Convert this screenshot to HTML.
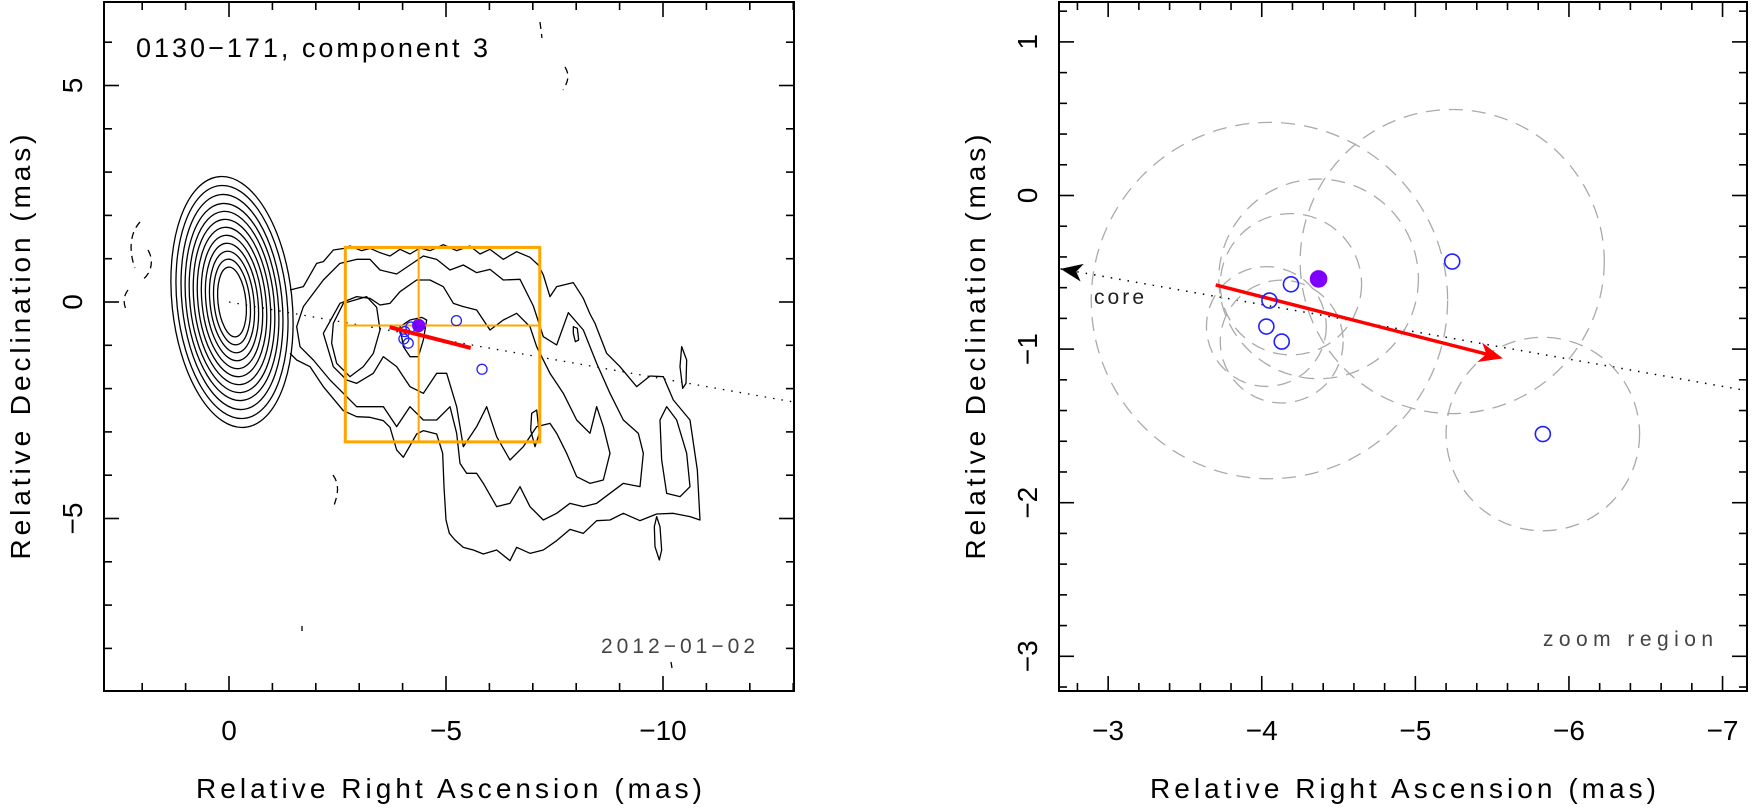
<!DOCTYPE html>
<html><head><meta charset="utf-8"><style>
html,body{margin:0;padding:0;background:#fff}
svg{display:block}
text{font-family:"Liberation Sans",sans-serif;fill:#000}
</style></head><body>
<svg id="fig" width="1753" height="811" viewBox="0 0 1753 811" xmlns="http://www.w3.org/2000/svg">
<defs>
<clipPath id="clipL"><rect x="104" y="2" width="690" height="689"/></clipPath>
<clipPath id="clipR"><rect x="1059" y="2" width="688" height="689"/></clipPath>
</defs>
<g id="left">
 <g clip-path="url(#clipL)" fill="none" stroke="#000" stroke-width="1.3">
  <g id="coreRings"></g>
  <g transform="translate(290,220) scale(0.33333)" stroke-width="3.9" stroke-linejoin="round">
   <path d="M0,210 L40,200 80,130 100,125 130,90 163,85 180,78 215,92 240,85 270,98 300,108 330,88 360,102 390,84 420,92 460,74 500,92 540,78 570,102 600,88 640,118 680,95 720,112 745,135 760,165 780,230 800,200 850,188 880,235 900,282 915,310 950,400 990,440 1040,500 1080,468 1120,470 1150,540 1200,600 1222,750 1230,900 1200,890 1150,880 1100,882 1050,902 1000,880 960,900 920,902 880,940 840,928 800,962 760,990 720,1000 680,982 660,1022 620,990 580,1002 550,990 520,982 495,960 478,940 468,900 462,800 458,700 440,642 400,632 380,642 340,712 320,690 300,622 280,602 240,592 200,590 160,572 100,500 60,440 20,420 0,400"/>
   <path d="M20,320 L40,260 100,180 150,130 200,118 240,118 270,150 320,162 360,135 400,108 440,118 480,150 520,135 560,158 600,148 640,180 690,178 730,258 760,350 800,375 835,278 880,330 920,430 960,520 1000,600 1045,640 1060,700 1050,800 1000,790 960,820 920,850 880,860 840,850 800,880 760,900 720,860 690,800 660,850 620,860 580,790 560,760 530,760 510,730 500,640 480,560 440,600 400,600 360,560 320,620 280,560 240,560 200,560 160,520 120,480 70,420 30,380 Z"/>
   <path d="M100,340 L150,250 200,230 240,235 270,255 300,250 330,215 380,180 420,180 460,200 490,250 520,260 560,270 600,330 640,300 680,280 720,320 740,380 780,460 820,520 860,600 900,640 920,560 940,620 960,700 940,780 900,790 860,770 830,700 800,640 780,610 740,620 700,680 660,720 620,650 590,560 560,620 520,680 500,560 470,460 440,460 400,520 360,500 320,440 280,410 250,460 200,490 170,480 130,440 Z"/>
   <path d="M130,310 L160,250 230,230 260,262 270,330 250,400 220,440 180,470 140,430 125,370 Z"/>
   <path d="M330,320 L360,300 395,292 410,300 400,360 385,410 360,410 340,380 Z"/>
   <path d="M1110,600 L1130,560 1160,600 1190,700 1200,800 1170,830 1130,820 1115,720 Z"/>
   <path d="M850,320 L862,325 866,360 856,365 850,340 Z"/>
   <path d="M1175,380 L1190,420 1188,490 1178,505 1170,440 Z"/>
   <path d="M1100,890 L1110,920 1115,990 1108,1020 1095,980 1093,920 Z"/>
   <path d="M725,580 L740,570 748,640 735,680 722,630 Z"/>
  </g>
  <g stroke-dasharray="7,5">
   <path d="M140,222 C128,235 130,255 135,268 M148,250 C155,262 150,275 142,280"/>
   <path d="M128,290 C122,298 124,305 127,312"/>
   <path d="M333,475 C340,485 338,495 333,508"/>
   <path d="M540,22 L542,38"/>
   <path d="M565,67 C570,75 568,82 563,90"/>
   <path d="M302,626 L302,631"/>
   <path d="M671,662 L672,668"/>
  </g>
  <g id="leftMarks"></g>
 </g>
 <g id="leftAxes"></g>
 <text x="136" y="57" font-size="27" textLength="352">0130−171, component 3</text>
 <text x="601" y="653" font-size="21" textLength="154" fill="#444" style="fill:#444">2012−01−02</text>
 <text x="449" y="798" font-size="28" text-anchor="middle" textLength="506">Relative Right Ascension (mas)</text>
 <text transform="translate(30,347) rotate(-90)" font-size="28" text-anchor="middle" textLength="425">Relative Declination (mas)</text>
</g>
<g id="right">
 <g clip-path="url(#clipR)" id="rightMarks"></g>
 <g id="rightAxes"></g>
 <text x="1543" y="646" font-size="21" textLength="170" fill="#444" style="fill:#444">zoom region</text>
 <text x="1094" y="304" font-size="21" textLength="50" fill="#222" style="fill:#222">core</text>
 <text x="1403" y="798" font-size="28" text-anchor="middle" textLength="506">Relative Right Ascension (mas)</text>
 <text transform="translate(985,347) rotate(-90)" font-size="28" text-anchor="middle" textLength="425">Relative Declination (mas)</text>
</g>
</svg>
<script>
// ---- data ----
const compRA  = [-4.37, -4.19, -4.05, -4.03, -4.13, -5.24, -5.83];
const compDec = [-0.543, -0.578, -0.684, -0.853, -0.951, -0.43, -1.553];
const compErr = [0.65, 0.46, 1.16, 0.39, 0.40, 0.99, 0.63];
const compFilled = [true, false, false, false, false, false, false];
const arrowStart = [-3.70, -0.582];
const arrowEnd = [-5.57, -1.06];
const jetSlope = [0.1775];
const coreRx = [60, 55, 50, 46, 42, 38, 34, 30, 26, 22, 18, 14];
const coreRy = [126, 117, 108, 99, 91, 83, 75, 67, 59, 51, 43, 35];
const leftXTicks = [0, -5, -10];
const leftYTicks = [5, 0, -5];
const rightXTicks = [-3, -4, -5, -6, -7];
const rightYTicks = [1, 0, -1, -2, -3];
const zoomBox = [-2.68, -7.16, 1.26, -3.23];

const NS = "http://www.w3.org/2000/svg";
function mk(tag, attrs, parent){const e=document.createElementNS(NS,tag);for(const k in attrs)e.setAttribute(k,attrs[k]);parent.appendChild(e);return e;}
const LF={x0:104,x1:794,y0:2,y1:691}, RF={x0:1059,x1:1747,y0:2,y1:691};
const xL=v=>229 - v*43.4, yL=d=>302 - d*43.3;
const xR=v=>1059 + (-2.68 - v)*153.6, yR=d=>195.5 - d*153.6;
const fmt=v=>v<0?"−"+Math.abs(v):String(v);

function axes(g,F,xs,ys,xticks,yticks,minor,name){
  const fr=mk('rect',{x:F.x0,y:F.y0,width:F.x1-F.x0,height:F.y1-F.y0,fill:'none',stroke:'#000','stroke-width':2},g);
  
  
  const xmin=Math.min(xs.inv(F.x0),xs.inv(F.x1)), xmax=Math.max(xs.inv(F.x0),xs.inv(F.x1));
  for(let i=Math.ceil(xmin/minor-1e-6);i<=Math.floor(xmax/minor+1e-6);i++){
    const v=i*minor, px=xs.f(v); const major=xticks.some(t=>Math.abs(t-v)<1e-6);
    const L=major?15:8;
    mk('line',{x1:px,x2:px,y1:F.y1,y2:F.y1-L,stroke:'#000','stroke-width':1.6},g);
    mk('line',{x1:px,x2:px,y1:F.y0,y2:F.y0+L,stroke:'#000','stroke-width':1.6},g);
  }
  xticks.forEach(v=>{const t=mk('text',{x:xs.f(v),y:F.y1+49,'font-size':28,'text-anchor':'middle'},g);t.textContent=fmt(v);
    
    });
  const ymin=Math.min(ys.inv(F.y0),ys.inv(F.y1)), ymax=Math.max(ys.inv(F.y0),ys.inv(F.y1));
  for(let i=Math.ceil(ymin/minor-1e-6);i<=Math.floor(ymax/minor+1e-6);i++){
    const v=i*minor, py=ys.f(v); const major=yticks.some(t=>Math.abs(t-v)<1e-6);
    const L=major?15:8;
    mk('line',{x1:F.x0,x2:F.x0+L,y1:py,y2:py,stroke:'#000','stroke-width':1.6},g);
    mk('line',{x1:F.x1,x2:F.x1-L,y1:py,y2:py,stroke:'#000','stroke-width':1.6},g);
  }
  yticks.forEach(v=>{const t=mk('text',{transform:`translate(${F.x0-22},${ys.f(v)}) rotate(-90)`,'font-size':28,'text-anchor':'middle'},g);t.textContent=fmt(v);
    
    });
}
axes(document.getElementById('leftAxes'),LF,{f:xL,inv:p=>(229-p)/43.4},{f:yL,inv:p=>(302-p)/43.3},leftXTicks,leftYTicks,1,'left');
axes(document.getElementById('rightAxes'),RF,{f:xR,inv:p=>-2.68-(p-1059)/153.6},{f:yR,inv:p=>(195.5-p)/153.6},rightXTicks,rightYTicks,0.2,'right');

const cr=document.getElementById('coreRings');
coreRx.forEach((rx,i)=>{const e=mk('ellipse',{cx:xL(0)+3,cy:yL(0),rx:rx,ry:coreRy[i],transform:`rotate(-6 ${xL(0)+3} ${yL(0)})`},cr);
  
  });

const lm=document.getElementById('leftMarks');
let dl=mk('line',{x1:xL(0),y1:yL(0),x2:xL(-13.1),y2:yL(-13.1*jetSlope[0]),stroke:'#000','stroke-width':1.3,'stroke-dasharray':'1.5,7'},lm);


const bx=mk('rect',{x:xL(zoomBox[0]),y:yL(zoomBox[2]),width:xL(zoomBox[1])-xL(zoomBox[0]),height:yL(zoomBox[3])-yL(zoomBox[2]),fill:'none',stroke:'#ffa500','stroke-width':3},lm);


let ch=mk('line',{x1:xL(compRA[0]),x2:xL(compRA[0]),y1:yL(zoomBox[2]),y2:yL(zoomBox[3]),stroke:'#ffa500','stroke-width':2},lm);


ch=mk('line',{x1:xL(zoomBox[0]),x2:xL(zoomBox[1]),y1:yL(compDec[0]),y2:yL(compDec[0]),stroke:'#ffa500','stroke-width':2},lm);


compRA.forEach((ra,i)=>{const c=mk('circle',{cx:xL(ra),cy:yL(compDec[i]),r:compFilled[i]?6:5,fill:compFilled[i]?'#8000ff':'none',stroke:compFilled[i]?'#8000ff':'#2020ff','stroke-width':1.3},lm);
  
  });
let ra1=mk('line',{x1:xL(arrowStart[0]),y1:yL(arrowStart[1]),x2:xL(arrowEnd[0]),y2:yL(arrowEnd[1]),stroke:'#ff0000','stroke-width':4},lm);



const rm=document.getElementById('rightMarks');
const tipRA=-2.69;
dl=mk('line',{x1:xR(tipRA),y1:yR(tipRA*jetSlope[0]),x2:xR(-7.3),y2:yR(-7.3*jetSlope[0]),stroke:'#000','stroke-width':1.5,'stroke-dasharray':'1.5,7'},rm);


(function(){const tx=xR(tipRA),ty=yR(tipRA*jetSlope[0]);const ang=Math.atan2(yR(-4*jetSlope[0])-ty,xR(-4)-tx);
 const p=[[0,0],[22,-9],[16,0],[22,9]].map(([a,b])=>[tx+a*Math.cos(ang)-b*Math.sin(ang),ty+a*Math.sin(ang)+b*Math.cos(ang)]);
 const h=mk('polygon',{points:p.map(q=>q.join(',')).join(' '),fill:'#000'},rm);
 
 })();
compRA.forEach((ra,i)=>{const c=mk('circle',{cx:xR(ra),cy:yR(compDec[i]),r:compErr[i]*153.6,fill:'none',stroke:'#aaa','stroke-width':1.3,'stroke-dasharray':'14,9'},rm);
  
  });
(function(){const x1=xR(arrowStart[0]),y1=yR(arrowStart[1]),x2=xR(arrowEnd[0]),y2=yR(arrowEnd[1]);const ang=Math.atan2(y2-y1,x2-x1);
 const l=mk('line',{x1:x1,y1:y1,x2:x2-14*Math.cos(ang),y2:y2-14*Math.sin(ang),stroke:'#ff0000','stroke-width':3.5},rm);
 
 
 const p=[[0,0],[-24,-10],[-17,0],[-24,10]].map(([a,b])=>[x2+a*Math.cos(ang)-b*Math.sin(ang),y2+a*Math.sin(ang)+b*Math.cos(ang)]);
 const h=mk('polygon',{points:p.map(q=>q.join(',')).join(' '),fill:'#ff0000'},rm);
 
 })();
compRA.forEach((ra,i)=>{const c=mk('circle',{cx:xR(ra),cy:yR(compDec[i]),r:compFilled[i]?8:7.5,fill:compFilled[i]?'#8000ff':'none',stroke:compFilled[i]?'#8000ff':'#2020ff','stroke-width':1.6},rm);
  
  });
</script>
</body></html>
